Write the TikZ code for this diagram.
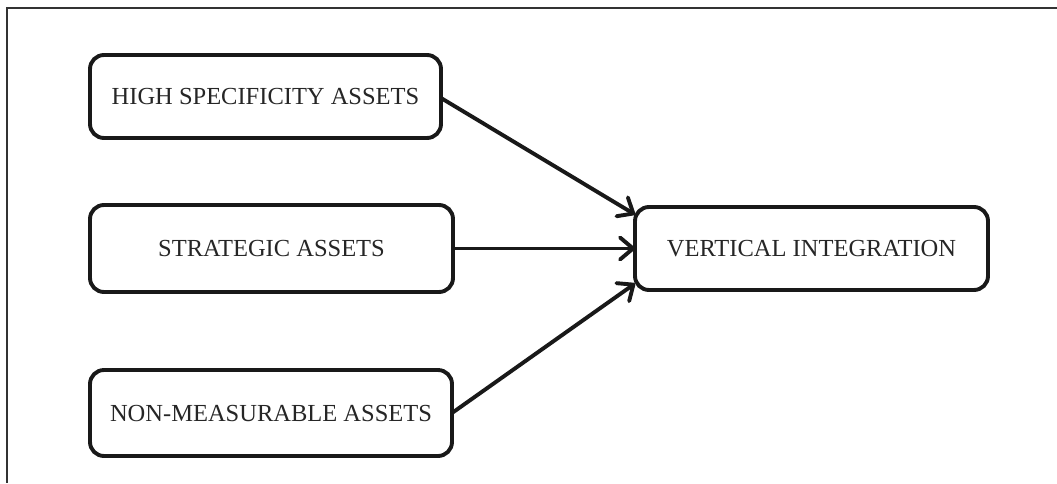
\documentclass[tikz,border=0pt]{standalone}
\usepackage{fontspec}
\setmainfont{Liberation Serif}
\usetikzlibrary{arrows.meta}
\begin{document}
\begin{tikzpicture}[x=1pt,y=-1pt,
  box/.style={draw=black!90, line width=3.9pt, rounded corners=14pt, fill=white,
    inner sep=0pt, outer sep=0pt, text=black!85,
    font=\fontsize{24.5}{28}\selectfont},
  link/.style={draw=black!90, line width=3.9pt, line cap=round,
    -{Straight Barb[length=13pt,width=22pt,line cap=round,line join=round]}},
  frame/.style={draw=black!80, line width=1.2pt}]
\useasboundingbox (0,0) rectangle (1057,483);
\coordinate (ftl) at (7,8);
\coordinate (ftr) at (1057,8);
\coordinate (fbl) at (7,483);
\draw[frame] (ftr) -- (ftl) -- (fbl);
\node[box, minimum width=351pt, minimum height=83pt] (h) at (265.5,96.5) {HIGH SPECIFICITY ASSETS};
\node[box, minimum width=363pt, minimum height=87pt] (s) at (271.5,248.5) {STRATEGIC ASSETS};
\node[box, minimum width=362pt, minimum height=86pt] (n) at (271,413) {NON-MEASURABLE ASSETS};
\node[box, minimum width=353pt, minimum height=83pt] (v) at (811.5,248.5) {VERTICAL INTEGRATION};
\draw[link] ([yshift=-1.5pt]h.east) -- ([yshift=34pt]v.west);
\draw[link] (s.east) -- (v.west);
\draw[link] (n.east) -- ([yshift=-35pt]v.west);
\end{tikzpicture}
\end{document}
